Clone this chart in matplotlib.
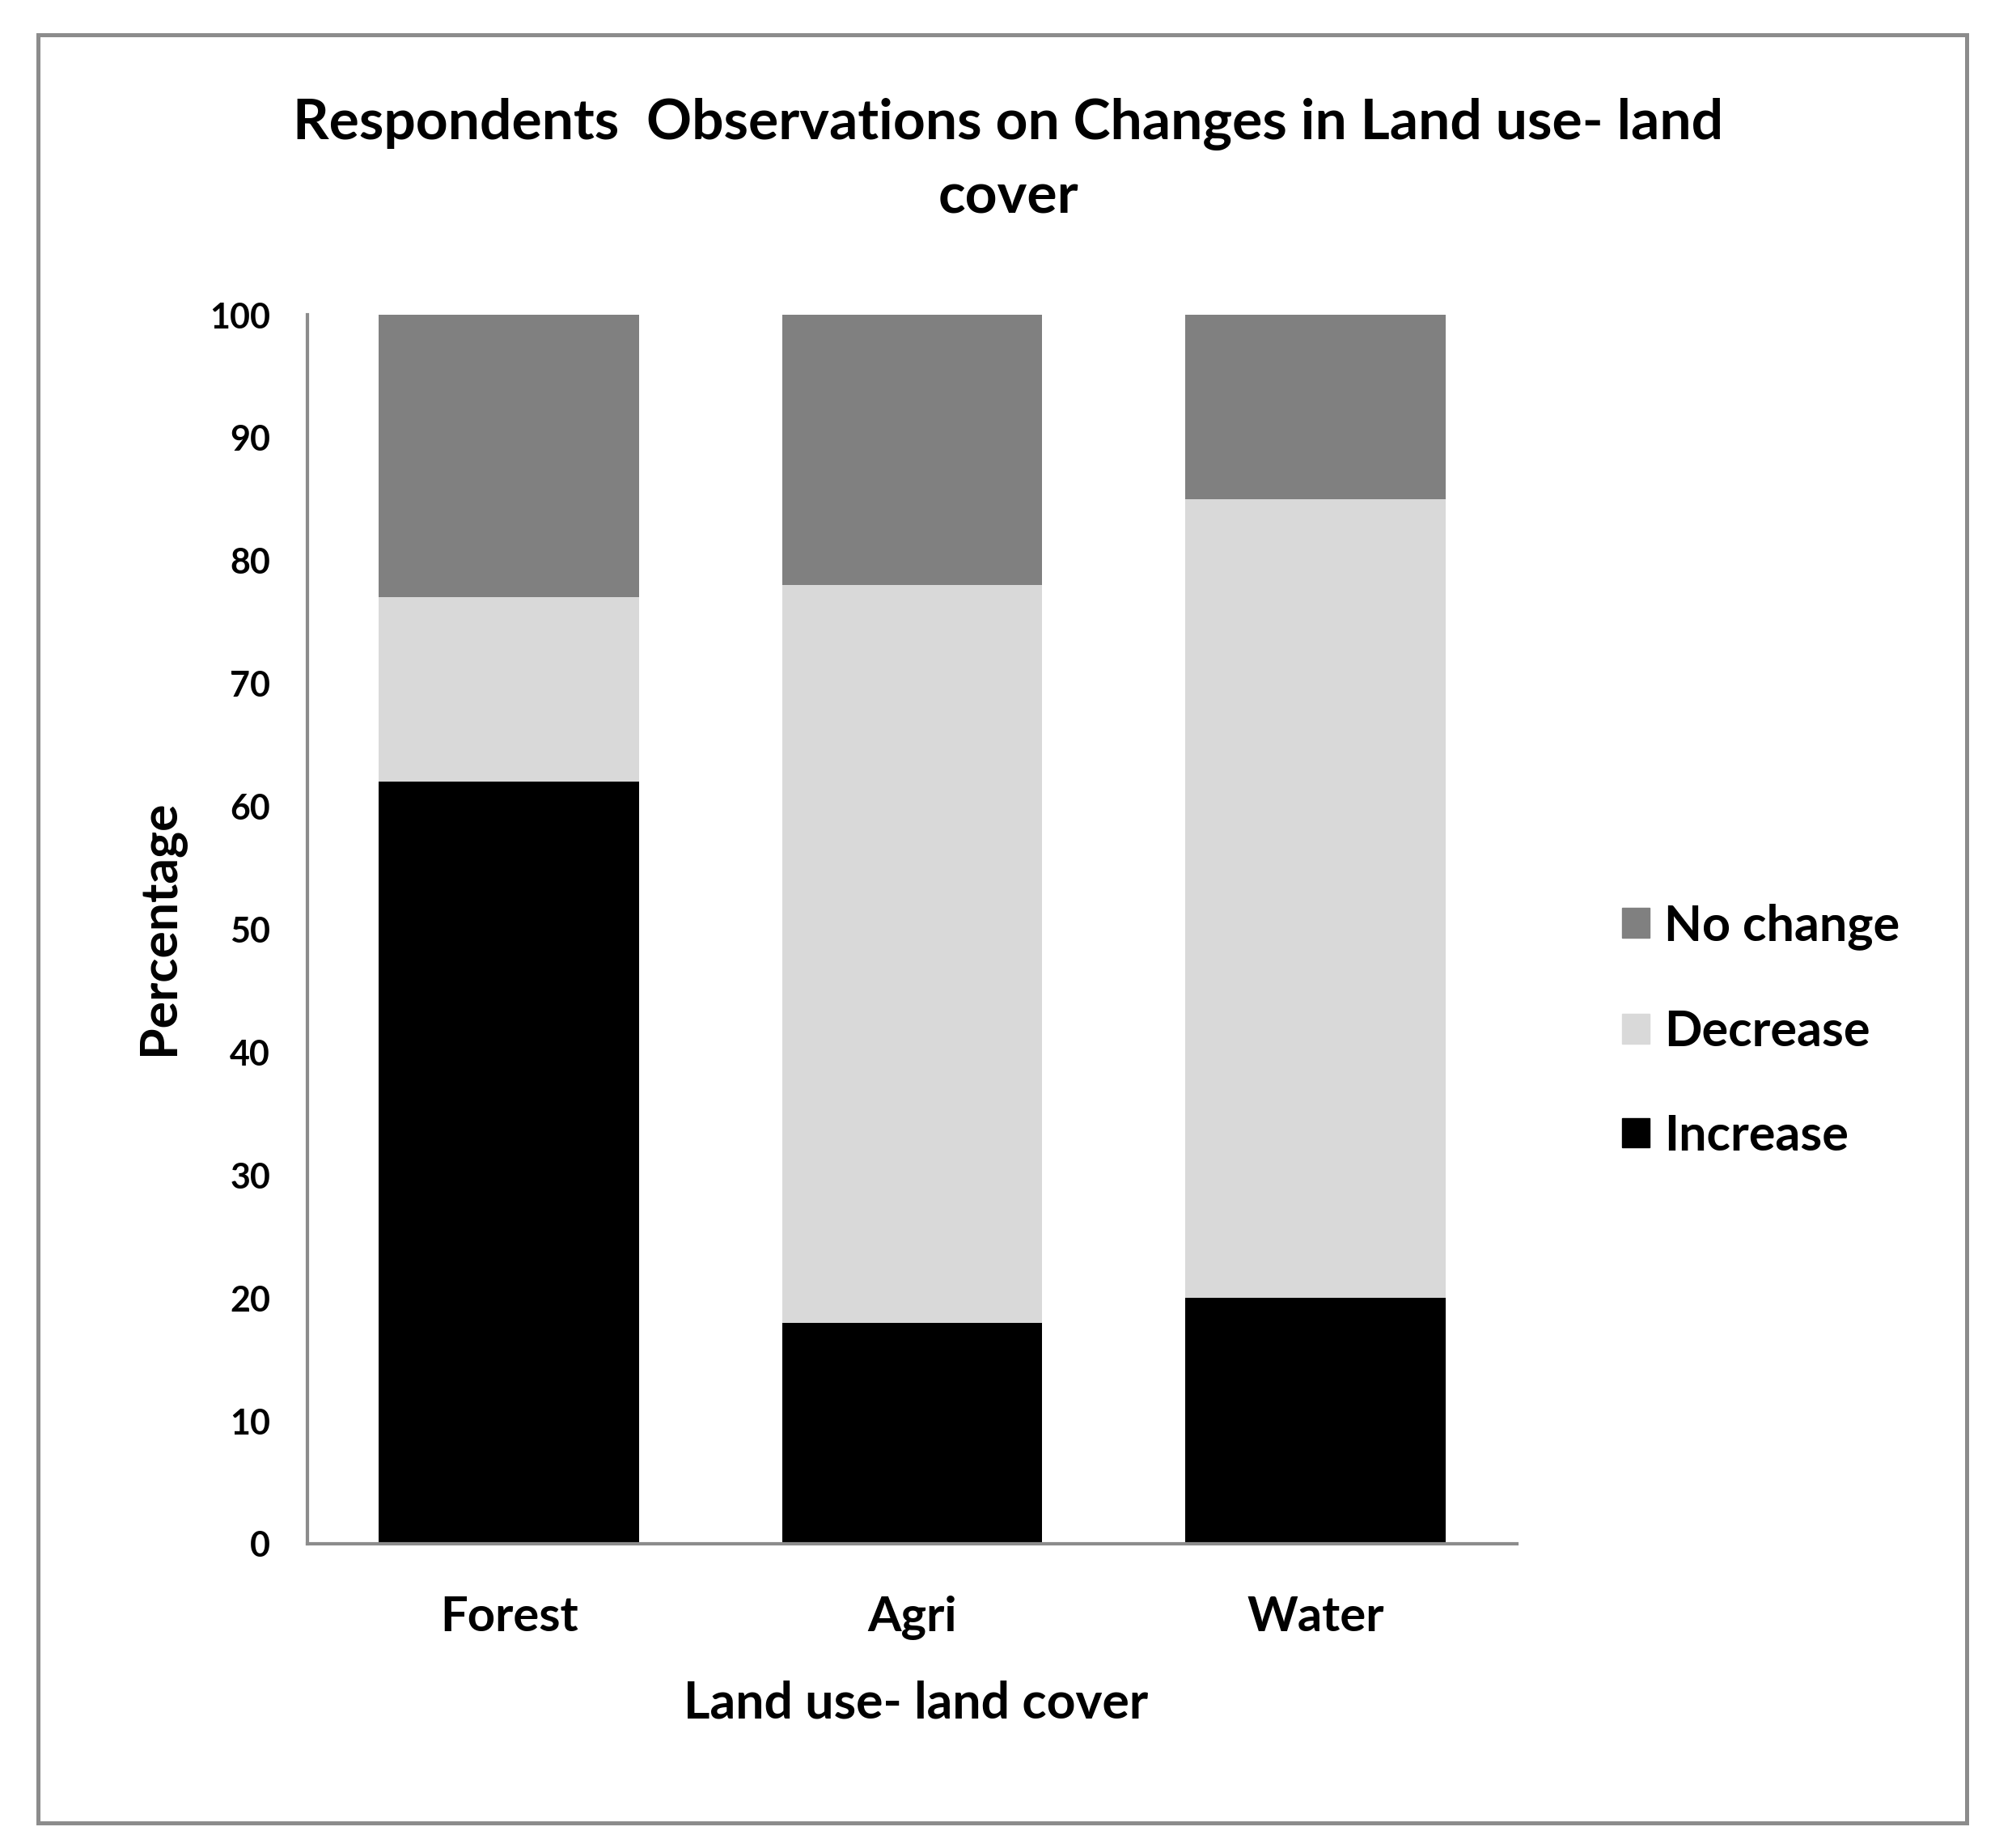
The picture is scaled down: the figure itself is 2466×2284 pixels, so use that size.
import matplotlib
matplotlib.use("Agg")
import matplotlib.pyplot as plt
from matplotlib.patches import Rectangle, Patch

categories = ["Forest", "Agri", "Water"]
increase = [62, 18, 20]
decrease = [15, 60, 65]
no_change = [23, 22, 15]
yticks = [0, 10, 20, 30, 40, 50, 60, 70, 80, 90, 100]

plt.rcParams['font.family'] = ['Lato', 'DejaVu Sans']

W, H = 2466, 2284
fig = plt.figure(figsize=(W / 100, H / 100), dpi=100)
ax = fig.add_axes([380 / W, 1 - 1908 / H, (1875 - 380) / W, (1908 - 389) / H])

x = list(range(len(categories)))
bw = 0.646
c_inc, c_dec, c_nc = "#000000", "#d9d9d9", "#808080"
ax.bar(x, increase, bw, color=c_inc, label="Increase")
bottom2 = increase
ax.bar(x, decrease, bw, bottom=bottom2, color=c_dec, label="Decrease")
bottom3 = [a + b for a, b in zip(increase, decrease)]
ax.bar(x, no_change, bw, bottom=bottom3, color=c_nc, label="No change")

ax.set_xlim(-0.5, 2.5)
ax.set_ylim(0, 100)
ax.set_yticks(yticks)
ax.set_yticklabels([str(v) for v in yticks], fontsize=31, fontweight='bold')
ax.set_xticks(x)
ax.set_xticklabels(categories, fontsize=43, fontweight='bold')
ax.tick_params(axis='y', length=0, pad=33)
ax.tick_params(axis='x', length=0, pad=46)
for s in ['top', 'right']:
    ax.spines[s].set_visible(False)
for s in ['left', 'bottom']:
    ax.spines[s].set_color('#8c8c8c')
    ax.spines[s].set_linewidth(3.0)

fig.text(1246 / W, 1 - 198 / H, "Respondents  Observations on Changes in Land use- land\ncover",
         ha='center', va='center', fontsize=50, fontweight='bold', linespacing=1.52)
fig.text(1132 / W, 1 - 2105 / H, "Land use- land cover", ha='center', va='center',
         fontsize=45, fontweight='bold')
fig.text(198 / W, 1 - 1146 / H, "Percentage", ha='center', va='center', rotation=90,
         fontsize=45, fontweight='bold')

handles = [Patch(color=c_nc, label="No change"), Patch(color=c_dec, label="Decrease"),
           Patch(color=c_inc, label="Increase")]
fig.legend(handles=handles, loc='center left', bbox_to_anchor=(2005 / W, 1 - 1274 / H),
           bbox_transform=fig.transFigure, frameon=False, borderpad=0, borderaxespad=0,
           prop={'size': 44, 'weight': 'bold'}, handlelength=0.55, handleheight=0.55,
           handletextpad=0.3, labelspacing=1.19)

fig.patches.append(Rectangle((47 / W, 1 - 2253 / H), (2431 - 47) / W, (2253 - 43) / H,
                             transform=fig.transFigure, fill=False, edgecolor='#8c8c8c',
                             linewidth=3.6, zorder=10))

fig.savefig("out.png", dpi=100)
